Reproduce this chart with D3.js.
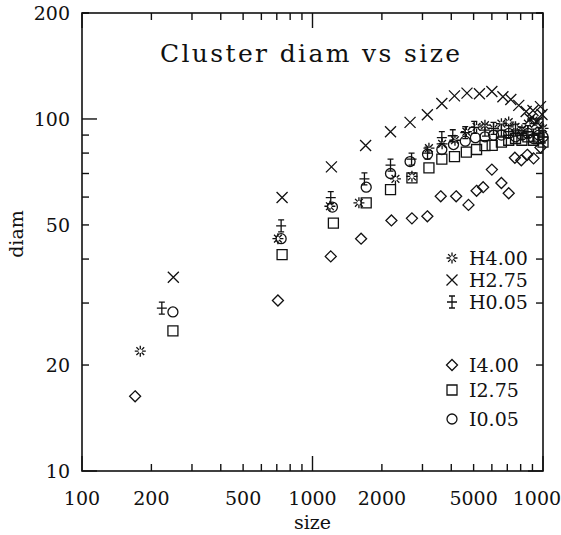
<!DOCTYPE html>
<html>
<head>
    <meta charset="utf-8">
    <title>Cluster diam vs size</title>
    <script src="https://d3js.org/d3.v7.min.js"></script>
    <style>
        body { margin: 0; background: #fff; }
        svg { display: block; }
        text { font-family: "DejaVu Serif", serif; fill: #111; }
        .frame { fill: none; stroke: #111; stroke-width: 1.6px; }
        .tick { stroke: #111; stroke-width: 1.4px; }
        .mark { fill: none; stroke: #111; stroke-width: 1.3px; }
    </style>
</head>
<body>
    <div id="chart"></div>

    <script>
        // data: [size, diam]
        const H400 = [[179,21.9],[708,45.7],[1190,56.5],[1590,57.8],[2290,67.6],[2700,68.7],[3200,82.6],[3650,85],[4150,87],[4650,92],[5150,95],[5600,96],[6100,94],[6600,97],[7100,98],[7600,95],[8100,93],[8600,97],[9100,99],[9600,96],[10000,94]];
        const H275 = [[249,35.5],[738,59.8],[1208,73.1],[1700,84.1],[2180,92.0],[2650,97.8],[3150,102.8],[3640,110.6],[4130,116.3],[4680,118.4],[5300,117.9],[6000,119.7],[6700,115.6],[7250,113.6],[7850,109.3],[8450,105.0],[8800,100],[9050,105.7],[9400,98],[9750,108.4],[9900,103]];
        const H005 = [[222,29.0],[731,49.7],[1200,59.8],[1680,67.6],[2180,73.9],[2690,76.9],[3155,80.0],[3640,88.5],[4060,89.6],[4600,91.5],[5030,94.6],[5600,93],[6100,94],[6600,93],[7100,92],[7600,93],[8100,91],[8600,92],[9100,90],[9600,91],[10000,89]];
        const I400 = [[170,16.3],[708,30.5],[1200,40.7],[1625,45.7],[2200,51.5],[2700,52.2],[3150,52.9],[3600,60.3],[4200,60.3],[4750,57.0],[5150,62.5],[5500,64.0],[6000,71.8],[6600,65.8],[7100,61.5],[7550,77.6],[8050,76.3],[8550,79.1],[9100,77.3],[9750,83.0]];
        const I275 = [[248,25.0],[738,41.2],[1232,50.6],[1710,57.8],[2180,63.0],[2700,68.0],[3200,72.6],[3640,76.9],[4130,78.2],[4650,80.5],[5150,81.9],[5600,84],[6020,84.1],[6600,86],[7100,87],[7600,88],[8100,87],[8600,89],[9100,87],[9600,88],[10000,86]];
        const I005 = [[248,28.3],[731,45.7],[1220,56.2],[1710,64.0],[2180,70.0],[2650,75.7],[3155,79.4],[3640,81.9],[4090,84.6],[4600,86.5],[5090,88.5],[5600,89],[6100,90],[6600,90],[7100,91],[7600,89],[8100,90],[8600,91],[9100,88],[9600,90],[10000,89]];

        const xTickLabels = [100, 200, 500, 1000, 2000, 5000, 10000];
        const yTickLabels = [10, 20, 50, 100, 200];

        const series = [
            { name: "H4.00", kind: "star", data: H400 },
            { name: "H2.75", kind: "cross", data: H275 },
            { name: "H0.05", kind: "bar", data: H005 },
            { name: "I4.00", kind: "diamond", data: I400 },
            { name: "I2.75", kind: "square", data: I275 },
            { name: "I0.05", kind: "circle", data: I005 }
        ];

        const width = 561, height = 535;
        const mLeft = 82, mRight = 543, mTop = 13, mBottom = 471;

        const svg = d3.select("#chart").append("svg")
            .attr("width", width)
            .attr("height", height);

        const x = d3.scaleLog().domain([100, 10000]).range([mLeft, mRight]);
        const y = d3.scaleLog().domain([10, 200]).range([mBottom, mTop]);

        // minor/major tick values
        const xTicks = [];
        for (let d = 100; d <= 10000; d *= 10)
            for (let k = 1; k < 10; k++) if (d * k <= 10000) xTicks.push(d * k);
        const yTicks = [];
        for (let d = 10; d <= 100; d *= 10)
            for (let k = 1; k < 10; k++) if (d * k <= 200) yTicks.push(d * k);
        yTicks.push(200);

        const isMajor = v => Math.abs(Math.log10(v) - Math.round(Math.log10(v))) < 1e-9;

        // ticks, pointing inward on all four sides
        const tg = svg.append("g");
        xTicks.forEach(v => {
            const len = isMajor(v) ? 15 : 7;
            tg.append("line").attr("class", "tick")
                .attr("x1", x(v)).attr("x2", x(v)).attr("y1", mBottom).attr("y2", mBottom - len);
            tg.append("line").attr("class", "tick")
                .attr("x1", x(v)).attr("x2", x(v)).attr("y1", mTop).attr("y2", mTop + len);
        });
        yTicks.forEach(v => {
            const len = isMajor(v) ? 15 : 7;
            tg.append("line").attr("class", "tick")
                .attr("x1", mLeft).attr("x2", mLeft + len).attr("y1", y(v)).attr("y2", y(v));
            tg.append("line").attr("class", "tick")
                .attr("x1", mRight).attr("x2", mRight - len).attr("y1", y(v)).attr("y2", y(v));
        });

        svg.append("rect").attr("class", "frame")
            .attr("x", mLeft).attr("y", mTop)
            .attr("width", mRight - mLeft).attr("height", mBottom - mTop);

        // tick labels
        svg.append("g").selectAll("text")
            .data(xTickLabels)
            .enter().append("text")
            .attr("x", d => x(d))
            .attr("y", 505)
            .attr("text-anchor", "middle")
            .style("font-size", "19px")
            .text(d => d);

        svg.append("g").selectAll("text")
            .data(yTickLabels)
            .enter().append("text")
            .attr("x", 70)
            .attr("y", d => y(d) + 7)
            .attr("text-anchor", "end")
            .style("font-size", "19px")
            .text(d => d);

        // axis titles
        svg.append("text")
            .attr("x", (mLeft + mRight) / 2)
            .attr("y", 529)
            .attr("text-anchor", "middle")
            .style("font-size", "19px")
            .text("size");

        svg.append("text")
            .attr("transform", "translate(23,234) rotate(-90)")
            .attr("text-anchor", "middle")
            .style("font-size", "19px")
            .text("diam");

        svg.append("text")
            .attr("x", 160)
            .attr("y", 62)
            .attr("textLength", 300)
            .attr("lengthAdjust", "spacing")
            .style("font-size", "25px")
            .text("Cluster diam vs size");

        // marker shapes
        function drawMark(g, kind, cx, cy) {
            const p = d3.path();
            if (kind === "star") {
                [0, 45, 90, 135, 180, 225, 270, 315].forEach(a => {
                    const r = a * Math.PI / 180;
                    p.moveTo(cx + 1.8 * Math.cos(r), cy + 1.8 * Math.sin(r));
                    p.lineTo(cx + 5.5 * Math.cos(r), cy + 5.5 * Math.sin(r));
                });
            } else if (kind === "cross") {
                p.moveTo(cx - 5.5, cy - 5.5); p.lineTo(cx + 5.5, cy + 5.5);
                p.moveTo(cx - 5.5, cy + 5.5); p.lineTo(cx + 5.5, cy - 5.5);
            } else if (kind === "bar") {
                p.moveTo(cx, cy - 6); p.lineTo(cx, cy + 6);
                p.moveTo(cx - 3, cy - 6); p.lineTo(cx + 3, cy - 6);
                p.moveTo(cx - 3, cy + 6); p.lineTo(cx + 3, cy + 6);
                p.moveTo(cx - 5, cy); p.lineTo(cx + 5, cy);
            } else if (kind === "diamond") {
                p.moveTo(cx, cy - 5.5); p.lineTo(cx + 5.5, cy);
                p.lineTo(cx, cy + 5.5); p.lineTo(cx - 5.5, cy); p.closePath();
            } else if (kind === "square") {
                p.rect(cx - 5, cy - 5, 10, 10);
            } else if (kind === "circle") {
                p.moveTo(cx + 5, cy); p.arc(cx, cy, 5, 0, 2 * Math.PI);
            }
            g.append("path").attr("class", "mark").attr("d", p.toString());
        }

        // points
        series.forEach(s => {
            const g = svg.append("g");
            s.data.forEach(d => drawMark(g, s.kind, x(d[0]), y(d[1])));
        });

        // legend
        const legendY = [258, 280, 302, 365, 390, 419];
        const legend = svg.append("g");
        series.forEach((s, i) => {
            drawMark(legend, s.kind, 452, legendY[i]);
            legend.append("text")
                .attr("x", 469)
                .attr("y", legendY[i] + 7)
                .style("font-size", "19px")
                .text(s.name);
        });
    </script>
</body>
</html>
